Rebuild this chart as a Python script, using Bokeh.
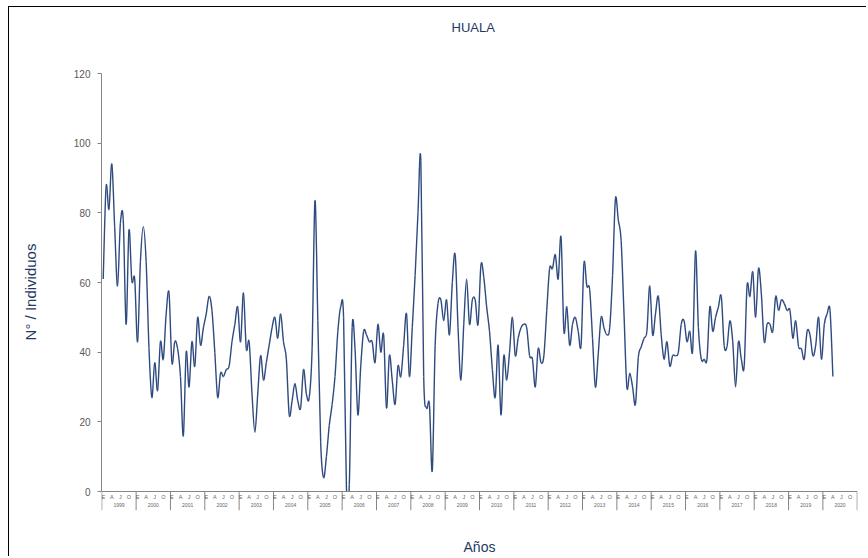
import numpy as np
from bokeh.plotting import figure
from bokeh.models import Range1d, FixedTicker, Title
from bokeh.embed import file_html
from bokeh.resources import INLINE
from bokeh.core.properties import value

# ---------------- data ----------------
years = list(range(1999, 2021))
month_letters = ["E", "A", "J", "O"]
month_offsets = [0, 3, 6, 9]
y_ticks = [0, 20, 40, 60, 80, 100, 120]
chart_title = "HUALA"

# monthly counts, Jan 1999 ... Apr 2020
individuos = [
    61, 87.5, 81, 94, 76, 59, 77, 78, 48, 75, 60.5, 61,      # 1999
    43, 66, 76, 66, 41, 27, 37, 29, 43, 38, 51, 57,          # 2000
    37, 43, 41, 33, 16, 40, 30, 43, 36, 50, 42, 47,          # 2001
    51, 56, 52, 40, 27, 34, 33, 35, 36, 43, 48, 53,          # 2002
    43, 57, 41, 43, 28, 17, 28, 39, 32, 37, 42, 47,          # 2003
    50, 44, 51, 43, 38, 22, 26, 31, 26, 24, 35, 28,          # 2004
    27, 41, 83.5, 49, 14, 4, 10, 19, 25, 33, 46, 53,         # 2005
    50, 1, 2, 47, 41, 22, 36, 46, 45, 43, 43, 37,            # 2006
    48, 40, 45, 24, 39, 32, 25, 36, 33, 42, 51, 33,          # 2007
    47, 62, 80, 95, 33, 24, 25, 6, 42, 54, 55, 49,           # 2008
    55, 45, 60, 68, 47, 32, 48, 61, 48, 55, 55, 48,          # 2009
    65, 61.5, 53, 46, 35, 27, 42, 22, 39, 32, 40, 50,        # 2010
    39, 44, 47, 48, 47, 39, 38, 30, 41, 37, 39, 52,          # 2011
    64, 64, 68, 61, 73, 46, 53, 42, 48, 50, 46, 42,          # 2012
    65.5, 59, 58, 44, 30, 39.5, 50, 47, 45, 47, 62, 84,      # 2013
    78, 72, 51, 30, 34, 30, 25, 38.5, 41.5, 44, 46, 59,      # 2014
    45, 51, 56, 45, 38, 43, 36, 39, 39, 40, 48, 49,          # 2015
    43, 46, 40.6, 69, 47, 38, 38, 38, 53, 46, 50, 53,        # 2016
    56, 42, 41.6, 49, 43, 30, 43, 38, 36, 59, 56, 63,        # 2017
    50, 64, 56.7, 43, 48, 48, 46, 56, 52, 55, 54, 52,        # 2018
    52, 44, 49, 41.6, 41, 38, 46, 45, 39, 42, 50, 38,        # 2019
    48, 51, 52, 33,                                          # 2020
]

NAVY = "#1F3864"
LINE = "#2E4A7F"
AXIS = "#868686"
FONT = "Liberation Sans"

# ------------- smooth line (Catmull-Rom -> cubic Bezier) -------------
y = np.array(individuos, dtype=float)
x = np.arange(len(y), dtype=float)
n = len(y)
xp = np.concatenate([[x[0]], x, [x[-1]]])
yp = np.concatenate([[y[0]], y, [y[-1]]])
bx0, by0 = x[:-1], y[:-1]
bx1, by1 = x[1:], y[1:]
cx0 = bx0 + (xp[2:n + 1] - xp[0:n - 1]) / 6.0
cy0 = by0 + (yp[2:n + 1] - yp[0:n - 1]) / 6.0
cx1 = bx1 - (xp[3:n + 2] - xp[1:n]) / 6.0
cy1 = by1 - (yp[3:n + 2] - yp[1:n]) / 6.0

n_months = len(years) * 12
band = -5.45   # depth of the category band below the value axis (in value units)
x_lo, x_hi = -0.6, n_months - 0.4

p = figure(width=858, height=550,
           x_range=Range1d(x_lo, x_hi), y_range=Range1d(band, 120),
           output_backend="svg", toolbar_location=None,
           min_border_left=92, min_border_right=10, min_border_top=66,
           min_border_bottom=47, title=chart_title,
           styles={"margin-left": "8px", "margin-top": "6px",
                   "border-top": "1px solid #000", "border-left": "1px solid #000"})
p.title.align = "left"
p.title.offset = 350
p.title.text_font = FONT
p.title.text_font_size = "13px"
p.title.text_font_style = "normal"
p.title.text_color = NAVY
p.title.standoff = 10
# empty spacer between the title and the plot frame
p.add_layout(Title(text=" ", text_font_size="13px", standoff=17), "above")

p.xgrid.visible = False
p.ygrid.visible = False
p.outline_line_color = None

ya = p.yaxis[0]
ya.ticker = FixedTicker(ticks=y_ticks)
ya.bounds = (0, 120)
ya.axis_line_color = AXIS
ya.major_tick_line_color = AXIS
ya.major_tick_out = 4
ya.major_tick_in = 0
ya.minor_tick_out = 0
ya.minor_tick_in = 0
ya.major_label_standoff = 7
ya.major_label_text_font = FONT
ya.major_label_text_font_size = "10px"
ya.major_label_text_color = "#595959"
ya.axis_label = "N° / Individuos"
ya.axis_label_text_font = FONT
ya.axis_label_text_font_size = "15px"
ya.axis_label_text_font_style = "normal"
ya.axis_label_text_color = NAVY
ya.axis_label_standoff = 32

xa = p.xaxis[0]
xa.ticker = FixedTicker(ticks=[])
xa.axis_line_color = None
xa.major_tick_out = 0
xa.major_tick_in = 0
xa.minor_tick_out = 0
xa.minor_tick_in = 0
xa.major_label_standoff = 0
xa.axis_label = "Años"
xa.axis_label_text_font = FONT
xa.axis_label_text_font_size = "14px"
xa.axis_label_text_font_style = "normal"
xa.axis_label_text_color = NAVY
xa.axis_label_standoff = 28

# data line
p.bezier(x0=bx0, y0=by0, x1=bx1, y1=by1, cx0=cx0, cy0=cy0, cx1=cx1, cy1=cy1,
         line_color=LINE, line_width=1.4)

# category band below zero (hides spline overshoot, carries month / year labels)
start_x = -0.5
end_x = n_months - 0.5
p.quad(left=[-1], right=[n_months + 1], bottom=[band - 1], top=[0],
       fill_color="white", line_color=None)
p.segment(x0=[start_x], y0=[0], x1=[end_x], y1=[0], line_color=AXIS, line_width=1)
bounds = [12 * k - 0.5 for k in range(len(years) + 1)]
p.segment(x0=bounds, y0=[0] * len(bounds), x1=bounds, y1=[band] * len(bounds),
          line_color=AXIS, line_width=1)

mx, mt = [], []
for k, yr in enumerate(years):
    for off, lab in zip(month_offsets, month_letters):
        mx.append(12 * k + off)
        mt.append(lab)
p.text(x=mx, y=[-1.45] * len(mx), text=mt, text_align="center",
       text_baseline="middle", text_font=value(FONT), text_font_size="5.5px",
       text_color="#666666")
p.text(x=[12 * k + 5.5 for k in range(len(years))], y=[-3.75] * len(years),
       text=[str(yr) for yr in years], text_align="center",
       text_baseline="middle", text_font=value(FONT), text_font_size="5px",
       text_color="#666666")

open("out.html", "w").write(file_html(p, INLINE))
